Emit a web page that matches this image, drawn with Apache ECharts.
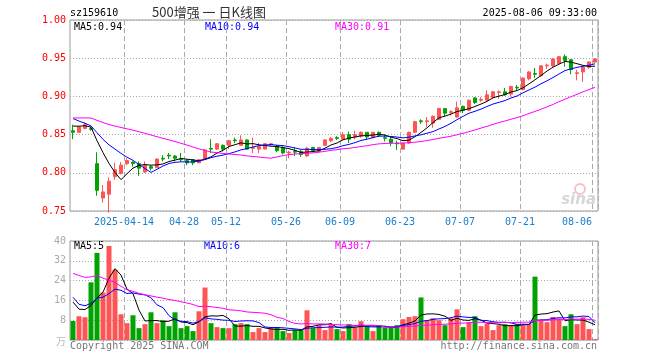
<!DOCTYPE html>
<html><head><meta charset="utf-8">
<script src="https://cdn.jsdelivr.net/npm/echarts@6/dist/echarts.min.js"></script>
<style>html,body{margin:0;padding:0;background:#fff}#c{width:660px;height:360px}</style>
</head><body><div id="c"></div>
<script>
// ---------- data ----------
const dates = ['2025-03-31','2025-04-01','2025-04-02','2025-04-03','2025-04-07','2025-04-08','2025-04-09','2025-04-10','2025-04-11','2025-04-14',
'2025-04-15','2025-04-16','2025-04-17','2025-04-18','2025-04-21','2025-04-22','2025-04-23','2025-04-24','2025-04-25','2025-04-28',
'2025-04-29','2025-04-30','2025-05-06','2025-05-07','2025-05-08','2025-05-09','2025-05-12','2025-05-13','2025-05-14','2025-05-15',
'2025-05-16','2025-05-19','2025-05-20','2025-05-21','2025-05-22','2025-05-23','2025-05-26','2025-05-27','2025-05-28','2025-05-29',
'2025-05-30','2025-06-03','2025-06-04','2025-06-05','2025-06-06','2025-06-09','2025-06-10','2025-06-11','2025-06-12','2025-06-13',
'2025-06-16','2025-06-17','2025-06-18','2025-06-19','2025-06-20','2025-06-23','2025-06-24','2025-06-25','2025-06-26','2025-06-27',
'2025-06-30','2025-07-01','2025-07-02','2025-07-03','2025-07-04','2025-07-07','2025-07-08','2025-07-09','2025-07-10','2025-07-11',
'2025-07-14','2025-07-15','2025-07-16','2025-07-17','2025-07-18','2025-07-21','2025-07-22','2025-07-23','2025-07-24','2025-07-25',
'2025-07-28','2025-07-29','2025-07-30','2025-07-31','2025-08-01','2025-08-04','2025-08-05','2025-08-06'];

const openP = [0.855,0.853,0.858,0.858,0.812,0.767,0.772,0.795,0.799,0.812,
0.814,0.812,0.801,0.808,0.807,0.819,0.823,0.822,0.818,0.816,
0.817,0.813,0.818,0.832,0.831,0.836,0.836,0.843,0.836,0.843,
0.832,0.831,0.831,0.837,0.835,0.833,0.826,0.828,0.828,0.822,
0.833,0.828,0.836,0.842,0.846,0.844,0.850,0.847,0.848,0.853,
0.846,0.853,0.846,0.844,0.839,0.831,0.839,0.853,0.868,0.867,
0.865,0.870,0.884,0.879,0.873,0.887,0.882,0.898,0.895,0.895,
0.899,0.905,0.906,0.903,0.912,0.909,0.923,0.930,0.927,0.940,
0.940,0.943,0.952,0.948,0.930,0.932,0.938,0.945];

const closeP = [0.853,0.860,0.863,0.857,0.777,0.775,0.789,0.804,0.810,0.816,
0.812,0.806,0.810,0.806,0.818,0.818,0.822,0.819,0.817,0.813,
0.813,0.817,0.830,0.831,0.838,0.831,0.842,0.842,0.843,0.831,
0.833,0.834,0.838,0.838,0.829,0.826,0.827,0.827,0.824,0.832,
0.829,0.833,0.843,0.845,0.845,0.850,0.844,0.850,0.853,0.847,
0.853,0.849,0.845,0.839,0.838,0.839,0.853,0.867,0.867,0.868,
0.874,0.884,0.878,0.880,0.885,0.882,0.895,0.892,0.896,0.902,
0.906,0.906,0.902,0.913,0.911,0.924,0.932,0.929,0.940,0.941,
0.949,0.952,0.947,0.935,0.931,0.938,0.945,0.949];

const highP = [0.863,0.861,0.866,0.860,0.827,0.784,0.794,0.813,0.814,0.819,
0.815,0.815,0.815,0.810,0.819,0.823,0.826,0.823,0.826,0.818,
0.818,0.818,0.831,0.844,0.839,0.837,0.843,0.846,0.849,0.844,
0.846,0.839,0.839,0.839,0.836,0.835,0.829,0.833,0.830,0.834,
0.834,0.834,0.844,0.847,0.848,0.853,0.854,0.855,0.854,0.853,
0.853,0.854,0.850,0.847,0.842,0.839,0.854,0.868,0.870,0.873,
0.875,0.885,0.884,0.882,0.893,0.888,0.896,0.899,0.899,0.908,
0.907,0.908,0.911,0.914,0.915,0.925,0.933,0.937,0.941,0.943,
0.950,0.953,0.955,0.949,0.935,0.939,0.946,0.950];

const lowP = [0.844,0.852,0.857,0.855,0.770,0.761,0.748,0.791,0.798,0.810,
0.808,0.796,0.800,0.803,0.806,0.815,0.818,0.815,0.815,0.810,
0.810,0.813,0.817,0.826,0.830,0.828,0.831,0.839,0.835,0.830,
0.826,0.826,0.831,0.835,0.827,0.824,0.819,0.822,0.821,0.821,
0.827,0.826,0.835,0.840,0.843,0.843,0.839,0.844,0.846,0.844,
0.845,0.847,0.841,0.835,0.830,0.830,0.838,0.852,0.864,0.860,
0.859,0.869,0.874,0.875,0.872,0.878,0.881,0.890,0.893,0.893,
0.897,0.897,0.901,0.900,0.907,0.908,0.921,0.924,0.926,0.936,
0.938,0.941,0.939,0.929,0.921,0.919,0.936,0.944];

// volume, unit: 万
const volume = [7.7,9.6,9.2,23.3,35.2,19.2,38.0,28.4,10.4,6.8,
10.0,4.8,6.4,11.2,6.8,8.0,5.6,11.2,4.8,5.6,
3.6,11.6,21.2,6.8,5.2,4.8,4.8,6.4,6.8,6.4,
3.2,4.8,3.2,4.8,5.2,3.6,2.8,4.0,4.0,12.0,
4.8,6.0,4.0,6.4,4.4,3.6,6.4,5.2,7.6,5.6,
3.6,6.0,5.1,5.1,6.0,8.4,9.3,9.6,17.2,8.0,
8.8,8.0,6.0,8.8,12.4,5.2,7.2,9.6,5.6,6.7,
4.0,6.0,6.4,6.0,6.4,6.0,6.4,25.6,8.0,7.2,
9.3,8.7,5.6,10.4,6.4,9.2,4.4,0.4];

// closes / volumes of the 29 sessions before the first shown day (only feed the moving averages)
const priorClose = [0.858,0.862,0.860,0.866,0.864,0.868,0.862,0.866,0.870,0.865,0.867,0.870,
0.876,0.880,0.884,0.882,0.886,0.885,0.884,0.886,0.893,0.892,0.891,0.866,0.862,0.861,0.860,0.866,0.866];
const priorVol = [34,32.8,18,19.5,50,62,58,55,48.8,30,28,25,24,22,20,23,21,22,20,21.2,38,15,14,14,15,24,10,15,20];

const tickDates = ['2025-04-14','2025-04-28','2025-05-12','2025-05-26','2025-06-09','2025-06-23','2025-07-07','2025-07-21','2025-08-06'];
const tickLabels = ['2025-04-14','04-28','05-12','05-26','06-09','06-23','07-07','07-21','08-06'];
const priceTicks = [0.75, 1.00, 0.05];   // min, max, step
const volTicks = [0, 40, 8];

const legendPrice = ['MA5:0.94','MA10:0.94','MA30:0.91'];
const legendVol = ['MA5:5','MA10:6','MA30:7'];

// ---------- helpers ----------
function movingAvg(prior, vals, n) {
  const all = prior.concat(vals);
  return vals.map((_, i) => {
    const end = prior.length + i;
    let s = 0;
    for (let k = end - n + 1; k <= end; k++) s += all[k];
    return +(s / n).toFixed(4);
  });
}
const UP = '#ff5454', DOWN = '#00a300';
const tickIdx = tickDates.map(d => dates.indexOf(d));
const tickSet = new Set(tickIdx);
const lastTick = tickIdx[tickIdx.length - 1];
const MONO = '"DejaVu Sans Mono", monospace';

const kData = dates.map((d, i) => [openP[i], closeP[i], lowP[i], highP[i]]);
const volData = volume.map((v, i) => ({ value: v, itemStyle: { color: closeP[i] >= openP[i] ? UP : DOWN } }));

const ma5 = movingAvg(priorClose, closeP, 5);
const ma10 = movingAvg(priorClose, closeP, 10);
const ma30 = movingAvg(priorClose, closeP, 30);
const vma5 = movingAvg(priorVol, volume, 5);
const vma10 = movingAvg(priorVol, volume, 10);
const vma30 = movingAvg(priorVol, volume, 30);

const gridLine = { show: true, interval: (i) => tickSet.has(i), lineStyle: { color: '#aaa', width: 1, type: [5, 3] } };

function lineSeries(data, color, xi, yi) {
  return { type: 'line', data, xAxisIndex: xi, yAxisIndex: yi, showSymbol: false, symbol: 'none',
    lineStyle: { color, width: 1 }, z: 5, silent: true };
}

const chart = echarts.init(document.getElementById('c'), null, { renderer: 'canvas' });
chart.setOption({
  animation: false,
  backgroundColor: '#fff',
  grid: [
    { left: 70, top: 20, width: 528, height: 191, show: true, borderColor: '#999', borderWidth: 1 },
    { left: 70, top: 241, width: 528, height: 99, show: true, borderColor: '#999', borderWidth: 1 }
  ],
  xAxis: [
    { type: 'category', gridIndex: 0, data: dates, boundaryGap: true,
      axisLine: { show: false }, axisTick: { show: false }, splitLine: gridLine,
      axisLabel: { show: true, interval: (i) => tickSet.has(i), margin: 6,
        formatter: (v, i) => { const k = tickIdx.indexOf(i); if (k < 0) return ''; return (i === lastTick ? '{b|' : '{a|') + tickLabels[k] + '}'; },
        rich: { a: { padding: [0, 6, 0, 0], color: '#1a7fd0', fontFamily: MONO, fontSize: 10 },
                b: { padding: [0, 36, 0, 0], color: '#1a7fd0', fontFamily: MONO, fontSize: 10 } } } },
    { type: 'category', gridIndex: 1, data: dates, boundaryGap: true,
      axisLine: { show: false }, axisTick: { show: false }, splitLine: gridLine, axisLabel: { show: false } }
  ],
  yAxis: [
    { type: 'value', gridIndex: 0, min: priceTicks[0], max: priceTicks[1], interval: priceTicks[2],
      axisLine: { show: false }, axisTick: { show: false },
      axisLabel: { color: '#ff0000', fontFamily: MONO, fontSize: 10, margin: 4, formatter: v => v.toFixed(2) },
      splitLine: { show: true, lineStyle: { color: '#aaa', width: 1, type: [1, 2] } } },
    { type: 'value', gridIndex: 1, min: volTicks[0], max: volTicks[1], interval: volTicks[2],
      axisLine: { show: false }, axisTick: { show: false },
      axisLabel: { color: '#aaa', fontFamily: MONO, fontSize: 10, margin: 4, formatter: v => v === 0 ? '' : String(v) },
      splitLine: { show: true, lineStyle: { color: '#aaa', width: 1, type: [1, 2] } } }
  ],
  series: [
    { type: 'candlestick', xAxisIndex: 0, yAxisIndex: 0, data: kData, barWidth: 4, clip: true,
      itemStyle: { color: UP, color0: DOWN, borderColor: UP, borderColor0: DOWN, borderWidth: 1 } },
    lineSeries(ma5, '#000000', 0, 0),
    lineSeries(ma10, '#0000ff', 0, 0),
    lineSeries(ma30, '#ff00ff', 0, 0),
    { type: 'bar', xAxisIndex: 1, yAxisIndex: 1, data: volData, barWidth: 5 },
    lineSeries(vma5, '#000000', 1, 1),
    lineSeries(vma10, '#0000ff', 1, 1),
    lineSeries(vma30, '#ff00ff', 1, 1)
  ],
  graphic: [
    { type: 'text', x: 70, y: 13, style: { text: 'sz159610', font: '10px ' + MONO, fill: '#000', align: 'left', verticalAlign: 'middle' } },
    { type: 'text', x: 209, y: 12, style: { text: '500增强 一 日K线图', font: '13px "Noto Sans CJK SC"', fill: '#333', align: 'center', verticalAlign: 'middle' } },
    { type: 'text', x: 597, y: 13, style: { text: '2025-08-06 09:33:00', font: '10px ' + MONO, fill: '#000', align: 'right', verticalAlign: 'middle' } },
    { type: 'text', x: 74, y: 27, style: { text: legendPrice[0], font: '10px ' + MONO, fill: '#000', verticalAlign: 'middle' } },
    { type: 'text', x: 205, y: 27, style: { text: legendPrice[1], font: '10px ' + MONO, fill: '#0000ff', verticalAlign: 'middle' } },
    { type: 'text', x: 335, y: 27, style: { text: legendPrice[2], font: '10px ' + MONO, fill: '#ff00ff', verticalAlign: 'middle' } },
    { type: 'text', x: 74, y: 246, style: { text: legendVol[0], font: '10px ' + MONO, fill: '#000', verticalAlign: 'middle' } },
    { type: 'text', x: 204, y: 246, style: { text: legendVol[1], font: '10px ' + MONO, fill: '#0000ff', verticalAlign: 'middle' } },
    { type: 'text', x: 335, y: 246, style: { text: legendVol[2], font: '10px ' + MONO, fill: '#ff00ff', verticalAlign: 'middle' } },
    { type: 'text', x: 66, y: 341, style: { text: '万', font: '10px "Noto Sans CJK SC"', fill: '#bbb', align: 'right', verticalAlign: 'middle' } },
    { type: 'text', x: 70, y: 346, style: { text: 'Copyright 2025 SINA.COM', font: '10px ' + MONO, fill: '#777', verticalAlign: 'middle' } },
    { type: 'text', x: 597, y: 346, style: { text: 'http://finance.sina.com.cn', font: '10px ' + MONO, fill: '#777', align: 'right', verticalAlign: 'middle' } },
    { type: 'circle', shape: { cx: 580, cy: 189, r: 5 }, style: { fill: 'none', stroke: '#f3c4c4', lineWidth: 2 }, z: 1 },
    { type: 'text', x: 596, y: 200, style: { text: 'sina', font: 'italic bold 15px "DejaVu Sans"', fill: '#d6d6d6', align: 'right', verticalAlign: 'middle' }, z: 1 }
  ]
});
</script></body></html>
